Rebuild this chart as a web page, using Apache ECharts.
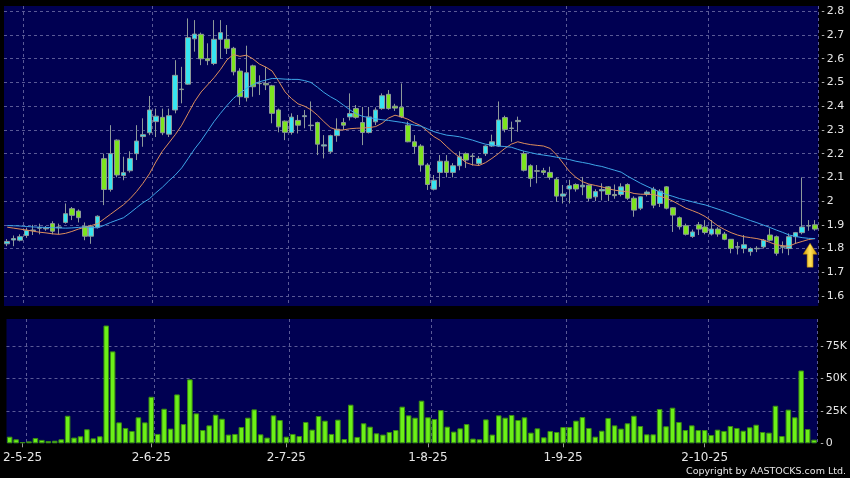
<!DOCTYPE html>
<html>
<head>
<meta charset="utf-8">
<title>AASTOCKS K-line</title>
<script src="https://cdn.jsdelivr.net/npm/echarts@6/dist/echarts.min.js"></script>
<style>
	html, body { margin: 0; padding: 0; background: #000; }
	#kline { width: 850px; height: 478px; }
</style>
</head>
<body>
<div id="kline"></div>
<script>
	// trading days (d-m-yy)
	var dates = [
		'29-4-25','30-4-25',
		'2-5-25','6-5-25','7-5-25','8-5-25','9-5-25','12-5-25','13-5-25','14-5-25','15-5-25','16-5-25','19-5-25','20-5-25','21-5-25','22-5-25','23-5-25','26-5-25','27-5-25','28-5-25','29-5-25','30-5-25',
		'2-6-25','3-6-25','4-6-25','5-6-25','6-6-25','9-6-25','10-6-25','11-6-25','12-6-25','13-6-25','16-6-25','17-6-25','18-6-25','19-6-25','20-6-25','23-6-25','24-6-25','25-6-25','26-6-25','27-6-25','30-6-25',
		'2-7-25','3-7-25','4-7-25','7-7-25','8-7-25','9-7-25','10-7-25','11-7-25','14-7-25','15-7-25','16-7-25','17-7-25','18-7-25','21-7-25','22-7-25','23-7-25','24-7-25','25-7-25','28-7-25','29-7-25','30-7-25','31-7-25',
		'1-8-25','4-8-25','5-8-25','6-8-25','7-8-25','8-8-25','11-8-25','12-8-25','13-8-25','14-8-25','15-8-25','18-8-25','19-8-25','20-8-25','21-8-25','22-8-25','25-8-25','26-8-25','27-8-25','28-8-25','29-8-25',
		'1-9-25','2-9-25','3-9-25','4-9-25','5-9-25','8-9-25','9-9-25','10-9-25','11-9-25','12-9-25','15-9-25','16-9-25','17-9-25','18-9-25','19-9-25','22-9-25','23-9-25','24-9-25','25-9-25','26-9-25','29-9-25','30-9-25',
		'2-10-25','3-10-25','6-10-25','8-10-25','9-10-25','10-10-25','13-10-25','14-10-25','15-10-25','16-10-25','17-10-25','20-10-25','21-10-25','22-10-25','23-10-25','24-10-25','27-10-25','28-10-25'
	];

	var opens = [
		1.82,1.836,1.835,1.855,1.876,1.886,1.883,1.905,1.888,1.91,1.968,1.958,1.894,1.852,1.89,2.179,2.049,2.257,2.108,2.128,
		2.2,2.272,2.288,2.335,2.353,2.282,2.384,2.47,2.493,2.684,2.703,2.6,2.58,2.682,2.682,2.644,2.548,2.436,2.57,2.497,
		2.496,2.486,2.384,2.337,2.289,2.34,2.356,2.318,2.331,2.232,2.208,2.276,2.331,2.355,2.39,2.331,2.289,2.334,2.39,2.45,
		2.4,2.396,2.32,2.25,2.232,2.152,2.05,2.121,2.168,2.121,2.149,2.2,2.19,2.159,2.2,2.232,2.232,2.352,2.306,2.335,
		2.2,2.149,2.128,2.128,2.121,2.092,2.021,2.051,2.07,2.06,2.067,2.018,2.043,2.06,2.028,2.028,2.07,2.012,1.97,2.029,
		2.05,1.99,2.06,1.972,1.93,1.896,1.851,1.9,1.891,1.861,1.882,1.861,1.839,1.806,1.8,1.787,1.799,1.807,1.857,1.85,
		1.806,1.8,1.85,1.867,1.895,1.9
	];
	var closes = [
		1.83,1.842,1.85,1.876,1.878,1.888,1.886,1.873,1.891,1.947,1.94,1.93,1.852,1.894,1.936,2.049,2.2,2.11,2.12,2.18,
		2.253,2.28,2.384,2.358,2.288,2.36,2.53,2.472,2.689,2.704,2.6,2.592,2.682,2.71,2.644,2.545,2.44,2.541,2.482,2.495,
		2.49,2.37,2.313,2.29,2.354,2.32,2.36,2.32,2.24,2.237,2.276,2.303,2.32,2.369,2.353,2.289,2.355,2.384,2.444,2.39,
		2.392,2.355,2.25,2.23,2.152,2.07,2.088,2.168,2.121,2.149,2.187,2.173,2.188,2.18,2.232,2.25,2.342,2.302,2.308,2.34,
		2.13,2.096,2.126,2.121,2.1,2.021,2.03,2.065,2.051,2.067,2.012,2.04,2.049,2.028,2.023,2.06,2.012,1.962,2.018,2.038,
		1.983,2.042,1.97,1.941,1.892,1.86,1.87,1.882,1.868,1.882,1.861,1.839,1.8,1.808,1.816,1.8,1.801,1.835,1.835,1.78,
		1.808,1.85,1.867,1.891,1.897,1.882
	];
	var lows = [
		1.81,1.81,1.83,1.845,1.857,1.86,1.875,1.86,1.86,1.905,1.92,1.91,1.835,1.82,1.885,1.983,2.04,2.1,2.088,2.12,
		2.173,2.229,2.278,2.27,2.278,2.27,2.37,2.412,2.49,2.63,2.573,2.573,2.573,2.6,2.62,2.53,2.405,2.42,2.44,2.447,
		2.468,2.328,2.29,2.257,2.28,2.285,2.307,2.3,2.194,2.18,2.2,2.25,2.3,2.34,2.347,2.236,2.285,2.32,2.385,2.385,
		2.38,2.35,2.248,2.2,2.124,2.047,2.045,2.06,2.1,2.1,2.13,2.14,2.15,2.15,2.19,2.228,2.228,2.29,2.25,2.292,
		2.125,2.06,2.075,2.11,2.09,1.997,1.99,1.99,2.04,2.025,2.0,2.0,2.003,2.0,2.01,2.02,2.005,1.934,1.962,2.02,
		1.97,1.975,1.965,1.87,1.88,1.855,1.845,1.857,1.86,1.855,1.85,1.835,1.78,1.775,1.78,1.77,1.785,1.8,1.83,1.77,
		1.78,1.772,1.82,1.86,1.875,1.875
	];
	var highs = [
		1.84,1.855,1.86,1.888,1.9,1.905,1.895,1.915,1.905,1.99,1.975,1.965,1.91,1.9,1.94,2.2,2.32,2.26,2.187,2.21,
		2.32,2.349,2.443,2.39,2.39,2.39,2.594,2.566,2.77,2.763,2.71,2.665,2.763,2.763,2.742,2.65,2.56,2.655,2.575,2.53,
		2.566,2.49,2.39,2.34,2.37,2.363,2.384,2.42,2.335,2.278,2.28,2.349,2.35,2.454,2.405,2.397,2.397,2.395,2.454,2.468,
		2.41,2.496,2.335,2.278,2.24,2.16,2.11,2.194,2.194,2.16,2.21,2.205,2.2,2.19,2.235,2.28,2.42,2.36,2.335,2.356,
		2.21,2.155,2.152,2.14,2.145,2.1,2.068,2.09,2.075,2.102,2.07,2.05,2.075,2.063,2.07,2.075,2.075,2.02,2.02,2.045,
		2.06,2.05,2.063,1.975,1.935,1.905,1.88,1.912,1.92,1.92,1.89,1.87,1.84,1.828,1.857,1.805,1.81,1.84,1.885,1.855,
		1.83,1.864,1.87,2.1,1.92,1.92
	];
	// moving averages as drawn (short = orange, long = blue)
	var maShort = [
		1.890,1.886,1.882,1.878,1.873,1.869,1.866,1.862,1.860,1.864,1.872,1.882,1.890,1.897,1.905,1.925,1.945,1.965,1.985,2.010,
		2.040,2.075,2.115,2.165,2.210,2.245,2.280,2.320,2.370,2.420,2.460,2.490,2.520,2.555,2.595,2.618,2.610,2.615,2.600,2.578,
		2.565,2.548,2.505,2.460,2.432,2.410,2.400,2.385,2.362,2.335,2.310,2.300,2.300,2.305,2.307,2.308,2.310,2.314,2.328,2.350,
		2.362,2.355,2.345,2.330,2.318,2.295,2.272,2.256,2.230,2.205,2.185,2.162,2.153,2.150,2.162,2.180,2.200,2.222,2.240,2.250,
		2.243,2.238,2.235,2.232,2.222,2.195,2.160,2.125,2.100,2.082,2.072,2.066,2.060,2.052,2.046,2.042,2.040,2.032,2.029,2.029,
		2.028,2.020,2.012,2.000,1.985,1.970,1.960,1.949,1.935,1.915,1.895,1.880,1.867,1.857,1.850,1.846,1.842,1.836,1.826,1.816,
		1.812,1.810,1.822,1.830,1.838,1.842
	];
	var maLong = [
		1.897,1.896,1.895,1.893,1.891,1.890,1.889,1.888,1.887,1.886,1.887,1.889,1.891,1.889,1.887,1.898,1.910,1.920,1.930,1.950,
		1.972,1.993,2.010,2.035,2.058,2.085,2.110,2.140,2.180,2.220,2.255,2.295,2.335,2.370,2.403,2.433,2.455,2.475,2.490,2.503,
		2.510,2.517,2.516,2.514,2.513,2.513,2.508,2.500,2.480,2.458,2.440,2.425,2.405,2.385,2.368,2.357,2.352,2.347,2.343,2.340,
		2.336,2.332,2.327,2.320,2.316,2.305,2.293,2.285,2.278,2.275,2.271,2.264,2.257,2.248,2.240,2.236,2.232,2.230,2.227,2.218,
		2.210,2.204,2.198,2.194,2.190,2.185,2.180,2.175,2.168,2.163,2.158,2.151,2.146,2.138,2.130,2.122,2.105,2.090,2.075,2.062,
		2.050,2.038,2.028,2.020,2.011,2.004,1.997,1.990,1.984,1.975,1.966,1.957,1.947,1.937,1.928,1.918,1.909,1.899,1.889,1.878,
		1.868,1.857,1.851,1.846,1.843,1.842
	];
	// volume, thousands of shares
	var volumes = [
		5.1,3.1,1.0,1.5,4.1,2.6,1.8,2.0,3.1,21.2,4.4,5.4,10.8,3.8,5.4,90.6,70.7,16.1,11.8,9.5,
		20.0,16.1,35.8,7.2,26.6,11.3,37.6,14.8,49.2,23.0,10.2,13.8,22.0,18.9,6.7,7.2,12.5,19.7,26.1,6.9,
		4.4,21.5,17.9,5.1,7.2,5.6,16.4,10.5,21.0,17.4,7.2,18.2,3.3,29.7,4.9,15.4,12.8,7.7,6.7,8.7,
		10.2,28.2,21.5,19.7,32.8,20.0,18.7,25.6,12.8,9.0,11.5,14.8,3.6,3.1,18.4,6.7,21.5,19.7,21.8,17.9,
		20.0,8.2,11.5,4.6,9.5,8.7,12.5,12.5,17.4,20.2,11.8,5.1,9.7,19.5,13.8,11.3,15.4,21.2,13.3,6.9,
		6.9,26.4,13.1,27.4,16.4,10.2,13.8,10.2,10.2,6.4,10.5,9.5,13.3,11.8,9.7,12.3,14.3,8.7,8.2,28.9,
		5.6,25.9,20.0,56.0,11.0,2.8
	];

	var navy = '#000052';
	var gridLine = { color: '#5a5a96', width: 1, type: [3, 3] };
	var textColor = '#e6e6e6';
	var font = '"DejaVu Sans", Verdana, sans-serif';

	function monthStart(i) {
		return i > 0 && dates[i].split('-')[1] !== dates[i - 1].split('-')[1];
	}
	// the vertical grid line sits just right of the first candle of each month
	function splitAt(i) { return monthStart(i - 1); }

	var kdata = dates.map(function (d, i) {
		return [opens[i], closes[i], lows[i], highs[i]];
	});

	var chart = echarts.init(document.getElementById('kline'));
	chart.setOption({
		animation: false,
		backgroundColor: '#000',
		grid: [
			{ left: 4, top: 6, width: 814.3, height: 300, show: true, backgroundColor: navy, borderWidth: 0 },
			{ left: 4, top: 11.3, width: 814.3, height: 284.7 },
			{ left: 4, top: 319, width: 814.3, height: 124.3, show: true, backgroundColor: navy, borderWidth: 0 }
		],
		xAxis: [
			{
				type: 'category', gridIndex: 0, data: dates,
				axisLine: { show: false }, axisTick: { show: false }, axisLabel: { show: false },
				splitLine: { show: true, interval: splitAt, lineStyle: gridLine }
			},
			{
				type: 'category', gridIndex: 1, data: dates, show: false
			},
			{
				type: 'category', gridIndex: 2, data: dates,
				axisLine: { show: false },
				axisTick: { show: true, interval: monthStart, alignWithLabel: true, length: 4, lineStyle: { color: '#999' } },
				axisLabel: { interval: monthStart, color: textColor, fontSize: 12, fontFamily: font, margin: 9 },
				splitLine: { show: true, interval: splitAt, lineStyle: gridLine }
			}
		],
		yAxis: [
			{ type: 'value', gridIndex: 0, show: false, splitLine: { show: false } },
			{
				type: 'value', gridIndex: 1, position: 'right', offset: 3.5,
				min: 1.6, max: 2.8, interval: 0.1,
				axisLine: { show: false },
				axisTick: { show: true, length: 2.5, lineStyle: { color: '#aaa' } },
				axisLabel: { color: textColor, fontSize: 11, fontFamily: font, margin: 5 },
				splitLine: { show: true, lineStyle: gridLine }
			},
			{
				type: 'value', gridIndex: 2, position: 'right', offset: 3.5,
				min: 0, max: 95.6, interval: 25,
				axisLine: { show: false },
				axisTick: { show: true, length: 2.5, lineStyle: { color: '#aaa' } },
				axisLabel: {
					color: textColor, fontSize: 11, fontFamily: font, margin: 5, showMaxLabel: false,
					formatter: function (v) { return v === 0 ? '0' : v + 'K'; }
				},
				splitLine: { show: true, showMinLine: false, showMaxLine: false, lineStyle: gridLine }
			}
		],
		series: [
			{
				name: 'K', type: 'candlestick', xAxisIndex: 1, yAxisIndex: 1,
				data: kdata, barWidth: '78%',
				itemStyle: {
					color: '#36e4f0', color0: '#7ce41e',
					borderColor: '#8e9a9a', borderColor0: '#8e9a9a', borderWidth: 1
				},
				markPoint: {
					silent: true,
					label: { show: false },
					data: [{
						coord: [dates[dates.length - 1], 1.772],
						symbol: 'path://M7,0 L14,11 L10,11 L10,24 L4,24 L4,11 L0,11 Z',
						symbolSize: [14, 24],
						symbolOffset: [-5, 0],
						itemStyle: {
							color: new echarts.graphic.LinearGradient(0, 0, 1, 0, [
								{ offset: 0, color: '#d49600' },
								{ offset: 0.5, color: '#ffe35a' },
								{ offset: 1, color: '#d49600' }
							]),
							borderColor: '#a87400', borderWidth: 0.5
						}
					}]
				}
			},
			{
				name: 'MA short', type: 'line', xAxisIndex: 1, yAxisIndex: 1,
				data: maShort, showSymbol: false, z: 3,
				lineStyle: { color: '#de8e5c', width: 1 }
			},
			{
				name: 'MA long', type: 'line', xAxisIndex: 1, yAxisIndex: 1,
				data: maLong, showSymbol: false, z: 3,
				lineStyle: { color: '#3ea6e8', width: 1 }
			},
			{
				name: 'Volume', type: 'bar', xAxisIndex: 2, yAxisIndex: 2,
				data: volumes, barWidth: '86%',
				itemStyle: { color: '#6cf018', borderColor: '#3a8c12', borderWidth: 1 }
			}
		],
		graphic: [{
			type: 'text', right: 4, top: 467,
			style: { text: 'Copyright by AASTOCKS.com Ltd.', fill: textColor, font: '9.5px ' + font }
		}]
	});
</script>
</body>
</html>
